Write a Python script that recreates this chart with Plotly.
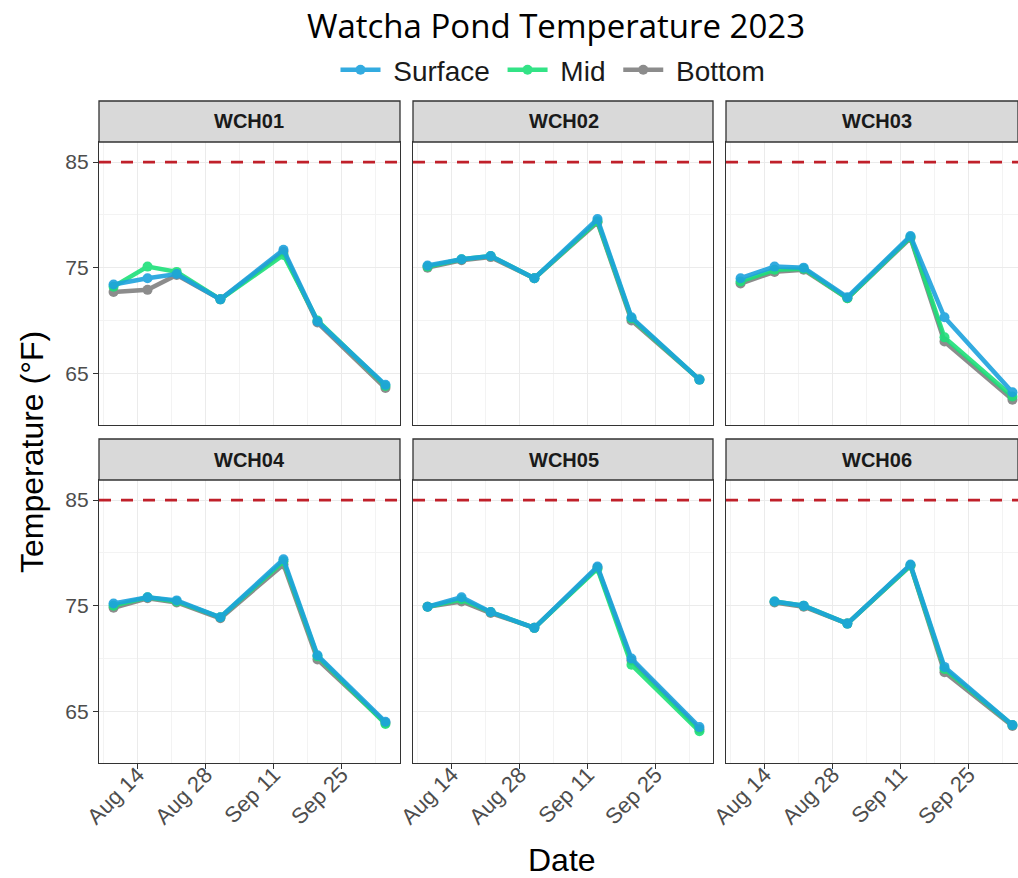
import datetime as _dt
import plotly.graph_objects as go

W, H = 1018, 878

# ---------------- data ----------------
dates = ["2023-08-09", "2023-08-16", "2023-08-22", "2023-08-31",
         "2023-09-13", "2023-09-20", "2023-10-04"]
sites = ["WCH01", "WCH02", "WCH03", "WCH04", "WCH05", "WCH06"]
depths = ["Surface", "Mid", "Bottom"]

surface = {
    "WCH01": [73.4, 74.0, 74.4, 72.0, 76.7, 69.9, 63.9],
    "WCH02": [75.2, 75.8, 76.1, 74.0, 79.6, 70.3, 64.4],
    "WCH03": [74.0, 75.1, 75.0, 72.2, 78.0, 70.3, 63.2],
    "WCH04": [75.2, 75.8, 75.5, 73.9, 79.4, 70.3, 64.0],
    "WCH05": [74.9, 75.8, 74.4, 72.9, 78.7, 70.0, 63.5],
    "WCH06": [None, 75.4, 75.0, 73.3, 78.9, 69.2, 63.7],
}
mid = {
    "WCH01": [73.2, 75.1, 74.6, 72.0, 76.2, 70.0, 63.8],
    "WCH02": [75.1, 75.8, 76.1, 74.0, 79.4, 70.2, 64.4],
    "WCH03": [73.7, 74.8, 74.9, 72.1, 77.9, 68.4, 62.8],
    "WCH04": [75.0, 75.8, 75.4, 73.9, 79.2, 70.2, 63.8],
    "WCH05": [74.9, 75.6, 74.4, 72.9, 78.5, 69.4, 63.1],
    "WCH06": [None, 75.4, 75.0, 73.3, 78.8, 69.0, 63.7],
}
bottom = {
    "WCH01": [72.7, 72.9, 74.3, 72.0, 76.5, 69.8, 63.6],
    "WCH02": [75.0, 75.7, 76.0, 74.0, 79.3, 70.0, 64.4],
    "WCH03": [73.5, 74.6, 74.8, 72.1, 77.8, 68.0, 62.5],
    "WCH04": [74.8, 75.7, 75.3, 73.8, 78.9, 69.9, 63.9],
    "WCH05": [74.9, 75.4, 74.3, 72.9, 78.6, 69.8, 63.3],
    "WCH06": [None, 75.3, 74.9, 73.3, 78.8, 68.7, 63.6],
}
threshold = 85
y_ticks = [65, 75, 85]

series = {"Surface": surface, "Mid": mid, "Bottom": bottom}
colors = {"Surface": "#1DA2DD", "Mid": "#1DE07A", "Bottom": "#808080"}
ranks = {"Surface": 1, "Mid": 2, "Bottom": 3}

# ---------------- layout geometry (pixels) ----------------
col_px = [(99, 400), (413, 713), (726, 1018)]
row_px = [(142, 425), (480, 763)]
strip_h = 41
full_w = 301
x_start = _dt.datetime(2023, 8, 6)
day_px = 301 / 62.0


def px_x(a):
    return a / W


def px_y(b):
    return 1 - b / H


fig = go.Figure()

sans = "Liberation Sans, Arial, sans-serif"
axis_font = dict(family=sans, size=21, color="#4D4D4D")
border = "#333333"
NB = "\u00a0"

for i, s in enumerate(sites):
    r, c = divmod(i, 3)
    n = i + 1
    xa = "x" if n == 1 else f"x{n}"
    ya = "y" if n == 1 else f"y{n}"
    for d in ["Bottom", "Mid", "Surface"]:
        fig.add_trace(go.Scatter(
            x=dates, y=series[d][s], mode="lines+markers",
            name=NB + d + NB, legendgroup=d, showlegend=(i == 0), legendrank=ranks[d],
            line=dict(color=colors[d], width=4.5),
            marker=dict(color=colors[d], size=10),
            opacity=0.9, connectgaps=False,
            xaxis=xa, yaxis=ya,
        ))
    x0p, x1p = col_px[c]
    y0p, y1p = row_px[r]
    width_px = x1p - x0p
    end = x_start + _dt.timedelta(days=width_px / day_px)
    xaxis = dict(
        domain=[px_x(x0p), px_x(x1p)], anchor=ya, type="date",
        range=[x_start.strftime("%Y-%m-%d %H:%M"), end.strftime("%Y-%m-%d %H:%M")],
        tick0="2023-08-14", dtick=14 * 86400000, tickformat="%b %d",
        showgrid=True, gridcolor="#EBEBEB", gridwidth=1,
        minor=dict(dtick=7 * 86400000, tick0="2023-08-07", showgrid=True,
                   gridcolor="#F3F3F3", gridwidth=1),
        showline=True, linecolor=border, linewidth=1.3, mirror=True,
        zeroline=False, automargin=False,
        ticks="outside" if r == 1 else "", ticklen=5, tickcolor=border,
        showticklabels=(r == 1), tickangle=-45, ticklabelstandoff=-16,
        tickfont=dict(family=sans, size=22, color="#4D4D4D"),
    )
    yaxis = dict(
        domain=[px_y(y1p), px_y(y0p)], anchor=xa,
        range=[60.1, 86.9], tickvals=y_ticks,
        showgrid=True, gridcolor="#EBEBEB", gridwidth=1,
        minor=dict(tickvals=[70, 80], showgrid=True, gridcolor="#F3F3F3", gridwidth=1),
        showline=True, linecolor=border, linewidth=1.3, mirror=True,
        zeroline=False, automargin=False,
        ticks="outside" if c == 0 else "", ticklen=5, tickcolor=border,
        showticklabels=(c == 0), tickfont=axis_font,
    )
    fig.update_layout(**{("xaxis" if n == 1 else f"xaxis{n}"): xaxis,
                         ("yaxis" if n == 1 else f"yaxis{n}"): yaxis})
    # threshold line
    fig.add_shape(type="line", xref=f"{xa} domain", yref=ya, x0=0, x1=1,
                  y0=threshold, y1=threshold,
                  line=dict(color="#C0202A", width=2.8, dash="12px,10px"), layer="above")
    # strip
    ph = y1p - y0p
    fig.add_shape(type="rect", xref=f"{xa} domain", yref=f"{ya} domain",
                  x0=0, x1=1, y0=1, y1=1 + strip_h / ph,
                  fillcolor="#D9D9D9", line=dict(color=border, width=1.3), layer="above")
    fig.add_annotation(text=f"<b>{s}</b>", xref=f"{xa} domain", yref=f"{ya} domain",
                       x=0.5 * full_w / width_px, y=1 + strip_h / 2 / ph,
                       showarrow=False, xanchor="center", yanchor="middle",
                       font=dict(family=sans, size=20, color="#1A1A1A"))

# axis titles
fig.add_annotation(text="Temperature (°F)", xref="paper", yref="paper",
                   x=px_x(32), y=px_y(452), textangle=-90, showarrow=False,
                   xanchor="center", yanchor="middle",
                   font=dict(family=sans, size=32, color="#000000"))
fig.add_annotation(text="Date", xref="paper", yref="paper",
                   x=px_x(562), y=px_y(860), showarrow=False,
                   xanchor="center", yanchor="middle",
                   font=dict(family=sans, size=32, color="#000000"))

fig.update_layout(
    width=W, height=H, autosize=False,
    margin=dict(l=0, r=0, t=0, b=0),
    paper_bgcolor="white", plot_bgcolor="white",
    title=dict(text="Watcha Pond Temperature 2023", x=px_x(556), xanchor="center",
               y=px_y(26), yanchor="middle",
               font=dict(family="Open Sans, sans-serif", size=33, color="#000000")),
    legend=dict(orientation="h", x=px_x(557), xanchor="center", y=px_y(70),
                yanchor="middle", font=dict(family=sans, size=28, color="#1A1A1A"),
                bgcolor="rgba(0,0,0,0)", itemwidth=40),
    showlegend=True,
)

fig.write_html("out.html")
